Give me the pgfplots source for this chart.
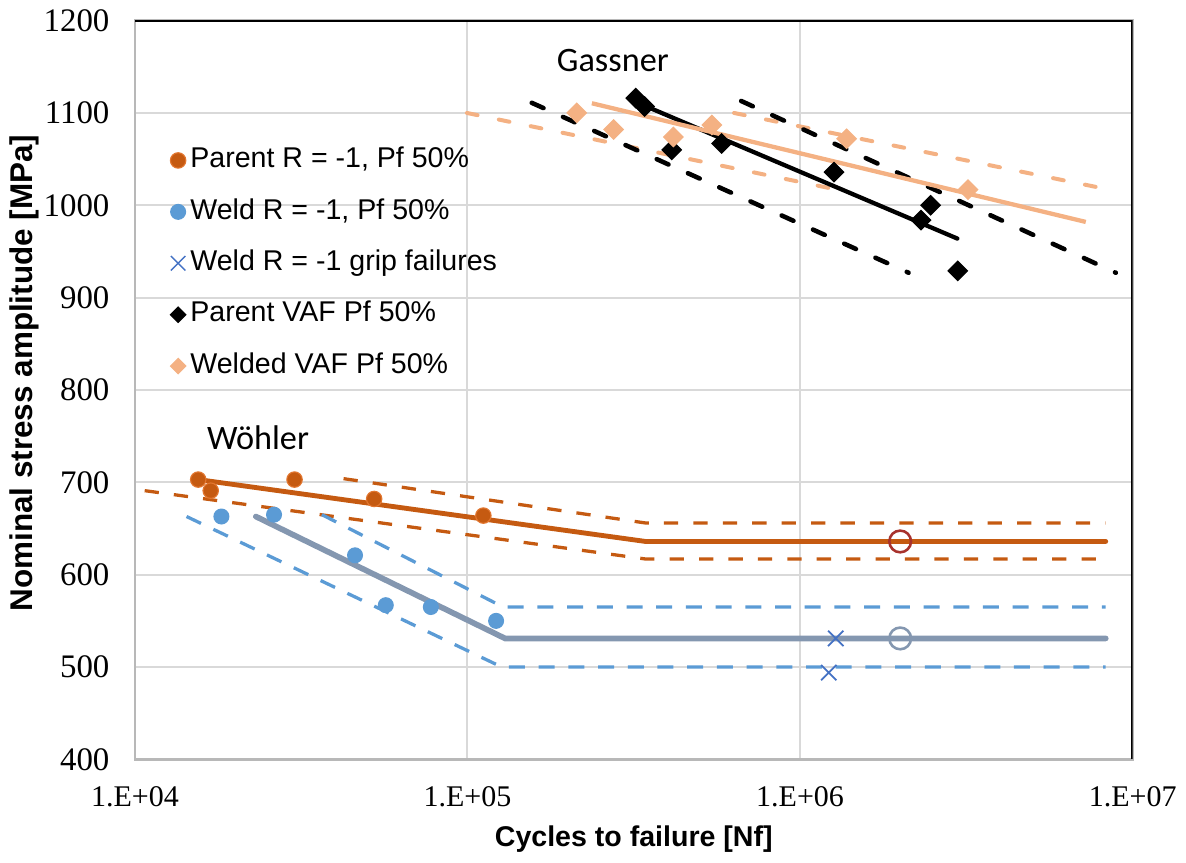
\documentclass[border=0pt]{standalone}
\usepackage{fontspec}
\setmainfont{Liberation Sans}
\newfontfamily\tickfont{Liberation Serif}
\newfontfamily\notefont{Carlito}
\usepackage{pgfplots}
\pgfplotsset{compat=1.18}

\definecolor{parentc}{HTML}{C55A11}
\definecolor{parentedge}{HTML}{E2762F}
\definecolor{weldc}{HTML}{5B9BD5}
\definecolor{weldline}{HTML}{8497B0}
\definecolor{peach}{HTML}{F4B183}
\definecolor{runred}{HTML}{A8322D}
\definecolor{gripc}{HTML}{4472C4}
\definecolor{gridc}{HTML}{D9D9D9}

\pgfplotsset{
  markleg/.style={legend image code/.code={\draw[##1] plot coordinates {(0pt,0pt)};}},
  smallleg/.style={legend image code/.code={\draw[##1,mark size=1.9pt] plot coordinates {(0pt,0pt)};}},
  odash/.style={parentc, line width=1.15pt, dash pattern=on 5pt off 5.3pt},
  bdash/.style={weldc, line width=1.15pt, dash pattern=on 5.6pt off 4.8pt},
  kdash/.style={black, line width=1.6pt, line cap=round, dash pattern=on 4.5pt off 7.5pt},
  pdash/.style={peach, line width=1.4pt, line cap=round, dash pattern=on 3.8pt off 7.6pt},
}

\begin{document}
\begin{tikzpicture}
\begin{axis}[
  scale only axis, width=349.3pt, height=258.65pt,
  xmode=log, xmin=1e4, xmax=1e7, ymin=400, ymax=1200,
  xtick={1e4,1e5,1e6,1e7}, xticklabels={1.E+04,1.E+05,1.E+06,1.E+07},
  ytick distance=100, minor xtick={},
  grid=major, major grid style={gridc, line width=0.7pt},
  axis line style={draw=black!28, line width=0.8pt},
  major tick length=0pt, minor tick length=0pt,
  /pgf/number format/assume math mode=true,
  /pgf/number format/1000 sep={},
  xticklabel style={font=\tickfont\fontsize{10.5}{12}\selectfont, yshift=-6pt},
  yticklabel style={font=\tickfont\fontsize{11.5}{13}\selectfont, xshift=-5.4pt},
  xlabel={Cycles to failure [Nf]},
  ylabel={Nominal stress amplitude [MPa]},
  xlabel style={font=\bfseries\fontsize{10}{12}\selectfont, at={(axis description cs:0.5,-0.108)}, anchor=center},
  ylabel style={font=\bfseries\fontsize{11}{13}\selectfont, at={(axis description cs:-0.111,0.523)}, anchor=center},
  legend style={at={(axis description cs:0.035,0.837)}, anchor=north west, draw=none, fill=none,
    font=\fontsize{10}{12}\selectfont, row sep=4.8pt, inner sep=0pt,
    nodes={inner sep=1.6pt, text height=7.5pt, text depth=2.5pt}},
  legend cell align=left,
]

% legend entries
\addlegendimage{only marks, mark=*, mark size=2.7pt, mark options={fill=parentc, draw=parentedge}, markleg}
\addlegendentry{Parent R = -1, Pf 50\%}
\addlegendimage{only marks, mark=*, mark size=2.6pt, mark options={fill=weldc, draw=weldc}, markleg}
\addlegendentry{Weld R = -1, Pf 50\%}
\addlegendimage{only marks, mark=x, mark size=3.6pt, mark options={draw=gripc, line width=0.5pt}, markleg}
\addlegendentry{Weld R = -1 grip failures}
\addlegendimage{only marks, mark=square*, mark options={rotate=45, fill=black, draw=black}, smallleg}
\addlegendentry{Parent VAF Pf 50\%}
\addlegendimage{only marks, mark=square*, mark options={rotate=45, fill=peach, draw=peach}, smallleg}
\addlegendentry{Welded VAF Pf 50\%}

% data points
\addplot[forget plot, only marks, mark=*, mark size=2.7pt, mark options={fill=parentc, draw=parentedge}]
  coordinates {(15500,703) (16900,691) (30200,703) (52400,682) (111600,664)};
\addplot[forget plot, only marks, mark=*, mark size=2.6pt, mark options={fill=weldc, draw=weldc}]
  coordinates {(18200,663) (26200,665) (45900,621) (56800,567) (77600,565) (121900,550)};
\addplot[forget plot, only marks, mark=square*, mark size=2.4pt, mark options={rotate=45, fill=black, draw=black}]
  coordinates {(320600,1116) (341000,1107) (411000,1060) (581000,1067) (1265000,1036) (2470000,1000) (2310000,984) (2980000,929)};
\addplot[forget plot, only marks, mark=square*, mark size=2.4pt, mark options={rotate=45, fill=peach, draw=peach}]
  coordinates {(213000,1100) (275000,1082) (416000,1074) (543000,1087) (1380000,1072) (3200000,1017)};

% Woehler curves
\addplot[forget plot, odash] coordinates {(42400,704) (343000,656) (8300000,656)};
\addplot[forget plot, odash] coordinates {(10700,691) (343000,617) (8300000,617)};
\addplot[forget plot, parentc, line width=1.7pt, line cap=round] coordinates {(15500,703) (343000,636) (8300000,636)};
\addplot[forget plot, bdash] coordinates {(36500,665) (128000,565) (8300000,565)};
\addplot[forget plot, bdash] coordinates {(14300,663) (126800,500) (8300000,500)};
\addplot[forget plot, weldline, line width=2pt, line cap=round] coordinates {(23100,663) (129700,531) (8300000,531)};

% Gassner curves
\addplot[forget plot, pdash] coordinates {(633000,1100) (7980000,1019)};
\addplot[forget plot, pdash] coordinates {(99600,1100) (1290000,1017)};
\addplot[forget plot, kdash] coordinates {(665000,1113) (8900000,927)};
\addplot[forget plot, kdash] coordinates {(156000,1111) (2120000,927)};
\addplot[forget plot, black, line width=1.5pt, line cap=round] coordinates {(325000,1111) (2970000,964)};
\addplot[forget plot, peach, line width=1.5pt] coordinates {(236600,1110.5) (7230000,982)};

% run-outs and grip failures
\addplot[forget plot, only marks, mark=o, mark size=3.8pt, mark options={draw=runred, fill=white, line width=0.9pt}]
  coordinates {(2000000,636)};
\addplot[forget plot, only marks, mark=o, mark size=3.8pt, mark options={draw=weldline, fill=white, line width=0.9pt}]
  coordinates {(2000000,531)};
\addplot[forget plot, only marks, mark=x, mark size=3.8pt, mark options={draw=gripc, line width=0.6pt}]
  coordinates {(1280000,531) (1220000,494)};

\node[font=\notefont\fontsize{12}{14}\selectfont] at (axis cs:273600,1157) {Gassner};
\node[font=\notefont\fontsize{12}{14}\selectfont] at (axis cs:23450,748) {Wöhler};

\draw[black, line width=1pt] (rel axis cs:0,1) -- (rel axis cs:1,1) -- (rel axis cs:1,0);
\end{axis}
\end{tikzpicture}
\end{document}
